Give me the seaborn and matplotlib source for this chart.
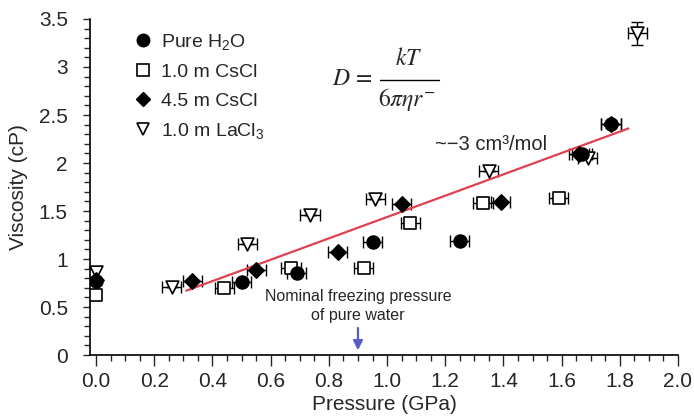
import numpy as np
import pandas as pd
import matplotlib
matplotlib.use("Agg")
import matplotlib.pyplot as plt
from matplotlib.lines import Line2D
from matplotlib.ticker import MultipleLocator, FormatStrFormatter
import seaborn as sns

# ---- data ----
h2o_p = [0.00, 0.50, 0.69, 0.95, 1.25, 1.67, 1.77]
h2o_v = [0.77, 0.76, 0.85, 1.18, 1.19, 2.09, 2.41]

cscl1_p = [0.00, 0.44, 0.67, 0.92, 1.08, 1.33, 1.59]
cscl1_v = [0.62, 0.70, 0.91, 0.91, 1.37, 1.58, 1.64]

cscl45_p = [0.00, 0.33, 0.55, 0.83, 1.05, 1.39, 1.66, 1.77]
cscl45_v = [0.78, 0.77, 0.89, 1.07, 1.57, 1.59, 2.09, 2.41]

lacl3_p = [0.00, 0.26, 0.52, 0.735, 0.96, 1.35, 1.69, 1.86]
lacl3_v = [0.86, 0.71, 1.16, 1.46, 1.63, 1.92, 2.05, 3.35]
lacl3_verr = [0, 0, 0, 0, 0, 0, 0, 0.12]

p_err = 0.033

fit_p = [0.31, 1.83]
fit_v = [0.67, 2.36]

series_labels = ["Pure H$_2$O", "1.0 m CsCl", "4.5 m CsCl", "1.0 m LaCl$_3$"]
xticks = [0.0, 0.2, 0.4, 0.6, 0.8, 1.0, 1.2, 1.4, 1.6, 1.8, 2.0]
yticks = [0, 0.5, 1, 1.5, 2, 2.5, 3, 3.5]

# ---- style ----
sns.set_theme(style="ticks")
plt.rcParams['font.family'] = ['Liberation Sans', 'DejaVu Sans']
plt.rcParams['mathtext.fontset'] = 'custom'
plt.rcParams['mathtext.rm'] = 'Liberation Sans'
plt.rcParams['mathtext.it'] = 'Liberation Sans:italic'

fig = plt.figure(figsize=(6.94, 4.19), dpi=100)
ax = fig.add_axes([90/694, 1-355/419, (678-90)/694, (355-19)/419])

frames = []
for name, p, v in [("h2o", h2o_p, h2o_v), ("cscl1", cscl1_p, cscl1_v),
                   ("cscl45", cscl45_p, cscl45_v), ("lacl3", lacl3_p, lacl3_v)]:
    frames.append(pd.DataFrame({"p": p, "v": v, "s": name}))
df = pd.concat(frames, ignore_index=True)

# error bars
for p, v in [(h2o_p, h2o_v), (cscl1_p, cscl1_v), (cscl45_p, cscl45_v)]:
    ax.errorbar(p[1:], v[1:], xerr=p_err, fmt='none', ecolor='black',
                elinewidth=1.0, capsize=4.5, capthick=1.0, zorder=2)
ax.errorbar(lacl3_p[1:], lacl3_v[1:], xerr=p_err, yerr=lacl3_verr[1:], fmt='none',
            ecolor='black', elinewidth=1.0, capsize=4.5, capthick=1.0, zorder=2)

# fit line
sns.lineplot(x=fit_p, y=fit_v, ax=ax, color='#e0404f', lw=1.6, zorder=3)

styles = {
    "h2o": dict(marker='o', s=85, facecolor='black', edgecolor='black'),
    "cscl1": dict(marker='s', s=85, facecolor='white', edgecolor='black'),
    "cscl45": dict(marker='D', s=60, facecolor='black', edgecolor='black'),
    "lacl3": dict(marker='v', s=85, facecolor='white', edgecolor='black'),
}
for name in ["lacl3", "cscl1", "h2o", "cscl45"]:
    sub = df[df.s == name]
    st = styles[name]
    sns.scatterplot(data=sub, x="p", y="v", ax=ax, marker=st['marker'], s=st['s'],
                    color=st['facecolor'], edgecolor=st['edgecolor'], linewidth=1.2,
                    legend=False, zorder=4)

# legend
handles = [
    Line2D([], [], ls='none', marker='o', ms=9, mfc='black', mec='black'),
    Line2D([], [], ls='none', marker='s', ms=9, mfc='white', mec='black', mew=1.2),
    Line2D([], [], ls='none', marker='D', ms=7, mfc='black', mec='black'),
    Line2D([], [], ls='none', marker='v', ms=9, mfc='white', mec='black', mew=1.2),
]
ax.legend(handles, series_labels, loc='upper left', bbox_to_anchor=(0.06, 0.985),
          frameon=False, fontsize=14, handletextpad=0.45, labelspacing=0.58,
          handlelength=1.0, borderaxespad=0)

# annotations
ax.text(0.9, 0.51, "Nominal freezing pressure\nof pure water", ha='center', va='center',
        fontsize=11.5, linespacing=1.4)
ax.annotate("", xy=(0.9, 0.02), xytext=(0.9, 0.31),
            arrowprops=dict(arrowstyle='-|>', color='#5a5ac8', lw=1.6, mutation_scale=14))
ax.text(1.165, 2.19, "~−3 cm³/mol", fontsize=14.5, ha='left', va='center')

# equation D = kT / (6 pi eta r^-)
ax.text(0.81, 2.88, r"$D\,=$", fontsize=17, ha='left', va='center', math_fontfamily='stix')
ax.text(1.075, 3.08, r"$kT$", fontsize=17, ha='center', va='center', math_fontfamily='stix')
ax.text(1.07, 2.66, r"$6\pi\eta r^{-}$", fontsize=17, ha='center', va='center',
        math_fontfamily='stix')
ax.plot([0.975, 1.18], [2.86, 2.86], color='black', lw=1.0)

# axes
ax.set_xlim(-0.021, 2.0)
ax.set_ylim(0, 3.5)
ax.set_xticks(xticks)
ax.set_yticks(yticks)
ax.xaxis.set_major_formatter(FormatStrFormatter('%.1f'))
ax.set_yticklabels([f"{t:g}" for t in yticks])
ax.xaxis.set_minor_locator(MultipleLocator(0.05))
ax.yaxis.set_minor_locator(MultipleLocator(0.1))
ax.tick_params(axis='x', which='major', direction='out', length=8, width=1.0, pad=4, labelsize=15)
ax.tick_params(axis='x', which='minor', direction='out', length=4, width=1.0)
ax.tick_params(axis='y', which='major', direction='out', length=5, width=1.0, pad=11, labelsize=15)
ax.tick_params(axis='y', which='minor', direction='out', length=4, width=1.0)
ax.set_xlabel("Pressure (GPa)", fontsize=15, labelpad=3)
ax.set_ylabel("Viscosity (cP)", fontsize=15, labelpad=8)
for s in ['top', 'right']:
    ax.spines[s].set_visible(False)
for s in ['left', 'bottom']:
    ax.spines[s].set_linewidth(1.2)
    ax.spines[s].set_color('black')

fig.savefig("out.png", dpi=100)
